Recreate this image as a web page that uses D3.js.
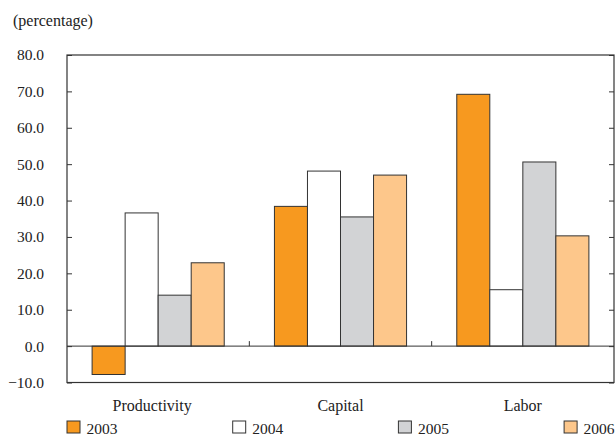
<!DOCTYPE html>
<html>
<head>
<meta charset="utf-8">
<script src="https://cdn.jsdelivr.net/npm/d3@7"></script>
<style>
  body { margin: 0; background: #fff; }
  svg { display: block; }
  text { font-family: "Liberation Serif", "Times New Roman", serif; }
</style>
</head>
<body>
<svg id="chart" width="616" height="437"></svg>
<script>
// Contributions to growth, by source and year (percentage)
const categories = ["Productivity", "Capital", "Labor"];
const years = ["2003", "2004", "2005", "2006"];
const v2003 = [-7.8, 38.4, 69.2];
const v2004 = [36.6, 48.1, 15.5];
const v2005 = [14.0, 35.5, 50.6];
const v2006 = [22.9, 47.0, 30.3];
const yTicks = [-10, 0, 10, 20, 30, 40, 50, 60, 70, 80];

const seriesValues = [v2003, v2004, v2005, v2006];
const colors = ["#F7991F", "#FFFFFF", "#D2D3D5", "#FDC78B"];
const serif = "Liberation Serif, Times New Roman, serif";

const svg = d3.select("#chart");
const m = { left: 67, right: 614, top: 55, bottom: 382.5 };

const x0 = d3.scaleBand().domain(categories).range([m.left, m.right]).paddingInner(0).paddingOuter(0);
const x1 = d3.scaleBand().domain(years).range([0, x0.bandwidth()]).paddingInner(0).paddingOuter(0.76);
const y = d3.scaleLinear().domain([-10, 80]).range([m.bottom, m.top]);

// Bars
const groups = svg.append("g").selectAll("g")
  .data(categories)
  .join("g")
  .attr("transform", d => `translate(${x0(d)},0)`);

groups.selectAll("rect")
  .data((c, ci) => years.map((yr, si) => ({ yr, si, v: seriesValues[si][ci] })))
  .join("rect")
  .attr("x", d => x1(d.yr))
  .attr("width", x1.bandwidth())
  .attr("y", d => y(Math.max(0, d.v)))
  .attr("height", d => Math.abs(y(d.v) - y(0)))
  .attr("fill", d => colors[d.si])
  .attr("stroke", "#333")
  .attr("stroke-width", 1);

// Zero baseline with category separators
svg.append("line")
  .attr("x1", m.left).attr("x2", m.right)
  .attr("y1", y(0)).attr("y2", y(0))
  .attr("stroke", "#333").attr("stroke-width", 1);

categories.slice(1).forEach(c => {
  svg.append("line")
    .attr("x1", x0(c)).attr("x2", x0(c))
    .attr("y1", y(0)).attr("y2", y(0) - 5)
    .attr("stroke", "#333").attr("stroke-width", 1);
});

// Plot frame
svg.append("rect")
  .attr("x", m.left).attr("y", m.top)
  .attr("width", m.right - m.left).attr("height", m.bottom - m.top)
  .attr("fill", "none").attr("stroke", "#333").attr("stroke-width", 1.2);

// Left axis: inward ticks, labels outside
const leftAxis = d3.axisLeft(y).tickValues(yTicks).tickSize(-5).tickPadding(23)
  .tickFormat(d3.format(".1f"));
const gl = svg.append("g").attr("transform", `translate(${m.left},0)`).call(leftAxis)
  .attr("font-family", serif).attr("font-size", 15.5);
gl.select(".domain").remove();
gl.selectAll(".tick line").attr("stroke", "#333");
gl.selectAll(".tick text").attr("fill", "#222");

// Right axis: inward ticks only
const rightAxis = d3.axisRight(y).tickValues(yTicks).tickSize(-5).tickFormat("");
const gr = svg.append("g").attr("transform", `translate(${m.right},0)`).call(rightAxis);
gr.select(".domain").remove();
gr.selectAll(".tick line").attr("stroke", "#333");

// Category labels
svg.append("g").selectAll("text")
  .data(categories)
  .join("text")
  .attr("x", d => x0(d) + x0.bandwidth() / 2 - (d === "Productivity" ? 6 : 0))
  .attr("y", 411)
  .attr("text-anchor", "middle")
  .attr("font-family", serif)
  .attr("font-size", 16)
  .attr("fill", "#222")
  .text(d => d);

// Unit label
svg.append("text")
  .attr("x", 13).attr("y", 26)
  .attr("font-family", serif)
  .attr("font-size", 16).attr("fill", "#222")
  .text("(percentage)");

// Legend
const legend = svg.append("g").selectAll("g")
  .data(years)
  .join("g")
  .attr("transform", (d, i) => `translate(${67 + i * 165.7},421)`);
legend.append("rect")
  .attr("width", 13).attr("height", 12)
  .attr("fill", (d, i) => colors[i])
  .attr("stroke", "#333").attr("stroke-width", 1);
legend.append("text")
  .attr("x", 19.5).attr("y", 12.5)
  .attr("font-family", serif)
  .attr("font-size", 15.5).attr("fill", "#222")
  .text(d => d);
</script>
</body>
</html>
